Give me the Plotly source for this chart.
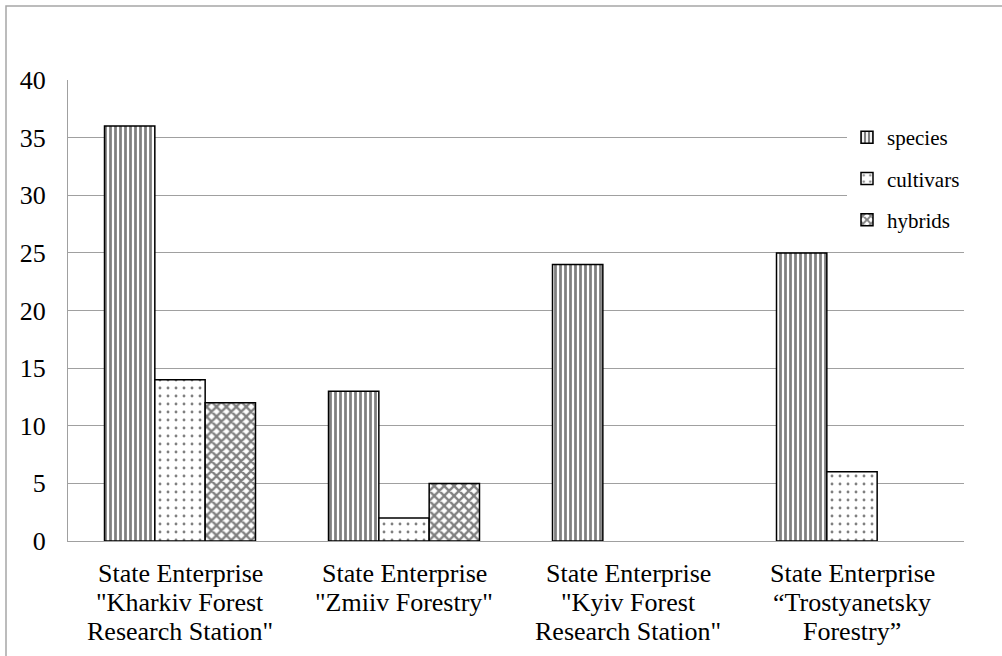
import plotly.graph_objects as go

categories = [
    'State Enterprise<br>"Kharkiv Forest<br>Research Station"',
    'State Enterprise<br>"Zmiiv Forestry"',
    'State Enterprise<br>"Kyiv Forest<br>Research Station"',
    'State Enterprise<br>\u201cTrostyanetsky<br>Forestry\u201d',
]
species = [36, 13, 24, 25]
cultivars = [14, 2, None, 6]
hybrids = [12, 5, None, None]

FONT = "Liberation Serif"
GRID = "#a0a0a0"

fig = go.Figure()
series = [
    ("species", species, dict(shape="|", size=5, solidity=0.55, fgcolor="black", bgcolor="white")),
    ("cultivars", cultivars, dict(shape=".", size=8, solidity=0.1, fgcolor="black", bgcolor="white")),
    ("hybrids", hybrids, dict(shape="x", size=7, solidity=0.55, fgcolor="black", bgcolor="white")),
]
for name, vals, pat in series:
    fig.add_trace(go.Bar(
        name=name, x=categories, y=vals, legendgroup=name,
        marker=dict(color="white", line=dict(color="black", width=1.5), pattern=pat),
    ))

W, H = 1002, 656
L, R, T, B = 68, 38, 80, 115
pw, ph = W - L - R, H - T - B

# category labels: one annotation per text line (tighter line spacing)
annotations = []
for cat in categories:
    for j, line in enumerate(cat.split("<br>")):
        annotations.append(dict(
            x=cat, xref="x", y=0, yref="paper", yanchor="middle", xanchor="center",
            yshift=-(32 + 29 * j), text=line, showarrow=False,
            font=dict(family=FONT, size=26, color="black"),
        ))

fig.update_layout(
    width=W, height=H,
    margin=dict(l=L, r=R, t=T, b=B, pad=0, autoexpand=False),
    paper_bgcolor="white", plot_bgcolor="white",
    font=dict(family=FONT, size=26, color="black"),
    barmode="group", bargap=0.326, bargroupgap=0,
    showlegend=True,
    legend=dict(
        x=(847 - L) / pw, y=(541 - 117) / ph, xanchor="left", yanchor="top",
        bgcolor="white", font=dict(family=FONT, size=21),
        tracegroupgap=11, itemwidth=30, traceorder="grouped",
    ),
    annotations=annotations,
    shapes=[dict(
        type="rect", xref="paper", yref="paper",
        x0=-(L - 6) / pw, x1=1.2, y0=-0.5, y1=1 + (T - 6) / ph,
        line=dict(color="#a6a6a6", width=1.5), fillcolor="rgba(0,0,0,0)", layer="below",
    )],
)
fig.update_yaxes(
    range=[0, 40], dtick=5, showgrid=True, gridcolor=GRID, gridwidth=1,
    showline=True, linecolor=GRID, linewidth=1, ticks="", zeroline=False,
    ticklabelstandoff=16, tickfont=dict(size=26, family=FONT), automargin=False,
)
fig.update_xaxes(
    showline=True, linecolor=GRID, linewidth=1, ticks="",
    showticklabels=False, automargin=False,
)

fig.write_html(
    "out.html",
    config={"displayModeBar": False},
    post_script="document.body.style.margin='0';",
)
